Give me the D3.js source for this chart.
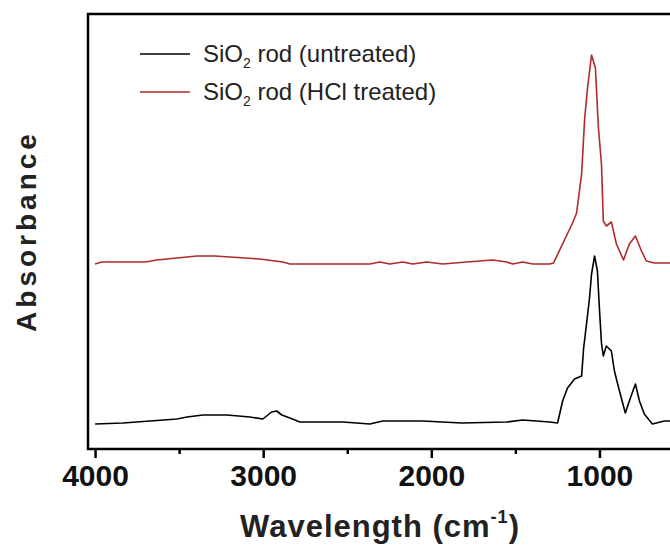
<!DOCTYPE html>
<html>
<head>
<meta charset="utf-8">
<script src="https://cdn.jsdelivr.net/npm/d3@7"></script>
<style>
  html, body { margin: 0; padding: 0; background: #fff; overflow: hidden; }
  svg { display: block; font-family: "Liberation Sans", Arial, sans-serif; }
</style>
</head>
<body>
<div id="grafico"></div>
<script>
// DATOS (numero de onda en cm-1, absorbancia en u.a.)
var ondaSinTratar = [4000, 3834, 3673, 3513, 3453, 3358, 3216, 3079, 3002, 2950, 2920, 2889, 2841, 2782, 2526, 2366, 2289, 2051, 1820, 1552, 1457, 1296, 1249, 1219, 1190, 1148, 1106, 1094, 1077, 1059, 1047, 1029, 1012, 1000, 988, 977, 959, 929, 911, 881, 846, 816, 786, 762, 733, 685, 614, 500];
var absSinTratar = [0.25, 0.26, 0.28, 0.30, 0.32, 0.34, 0.34, 0.32, 0.30, 0.37, 0.38, 0.34, 0.31, 0.27, 0.27, 0.25, 0.28, 0.28, 0.26, 0.27, 0.29, 0.27, 0.26, 0.48, 0.61, 0.70, 0.73, 1.01, 1.25, 1.51, 1.75, 1.93, 1.78, 1.40, 1.06, 0.93, 1.03, 0.98, 0.78, 0.58, 0.36, 0.51, 0.65, 0.48, 0.35, 0.25, 0.28, 0.28];

var ondaHCl = [4000, 3960, 3703, 3632, 3513, 3394, 3287, 3198, 3020, 2883, 2841, 2366, 2307, 2247, 2170, 2111, 2028, 1932, 1790, 1635, 1552, 1516, 1457, 1397, 1296, 1273, 1160, 1136, 1106, 1088, 1071, 1047, 1024, 1006, 988, 977, 959, 929, 899, 857, 822, 786, 750, 721, 673, 500];
var absHCl = [1.85, 1.87, 1.87, 1.89, 1.91, 1.93, 1.93, 1.92, 1.90, 1.87, 1.85, 1.85, 1.87, 1.85, 1.87, 1.85, 1.87, 1.85, 1.87, 1.89, 1.87, 1.85, 1.87, 1.85, 1.85, 1.86, 2.26, 2.36, 2.75, 3.30, 3.61, 3.94, 3.81, 3.21, 2.85, 2.28, 2.23, 2.27, 2.05, 1.89, 2.05, 2.13, 1.98, 1.88, 1.86, 1.86];

var ticksMayores = [4000, 3000, 2000, 1000];
var ticksMenores = [3500, 2500, 1500, 500];
var etiquetas = ['SiO2 rod (untreated)', 'SiO2 rod (HCl treated)'];
var colores = ['#000000', '#b22a2a'];

// TAMAÑO
var chart_width = 670;
var chart_height = 547;
var izq = 88, arriba = 14, abajo = 449, der = 702;

var svg = d3.select('#grafico').append('svg')
    .attr('width', chart_width)
    .attr('height', chart_height);

// ---------ESCALAS------------
var scale_x = d3.scaleLinear()
    .domain([4042, 390])
    .range([izq, der]);

var scale_y = d3.scaleLinear()
    .domain([0, 4.35])
    .range([abajo, arriba]);

// -------Line Generator------
var line = d3.line()
    .x(function (d) { return scale_x(d[0]); })
    .y(function (d) { return scale_y(d[1]); });

var series = [
    d3.zip(ondaSinTratar, absSinTratar),
    d3.zip(ondaHCl, absHCl)
];

svg.append('clipPath').attr('id', 'recorte')
    .append('rect')
    .attr('x', izq).attr('y', arriba)
    .attr('width', der - izq).attr('height', abajo - arriba);

series.forEach(function (s, i) {
    svg.append('path')
        .attr('d', line(s))
        .attr('fill', 'none')
        .attr('stroke', colores[i])
        .attr('stroke-width', 1.6)
        .attr('stroke-linejoin', 'round')
        .attr('clip-path', 'url(#recorte)');
});

// MARCO
svg.append('rect')
    .attr('x', izq).attr('y', arriba)
    .attr('width', der - izq).attr('height', abajo - arriba)
    .attr('fill', 'none')
    .attr('stroke', '#000')
    .attr('stroke-width', 2.5);

// EJE X (ticks hacia afuera)
var ejeX = svg.append('g')
    .attr('transform', 'translate(0,' + abajo + ')')
    .call(d3.axisBottom(scale_x).tickValues(ticksMayores).tickSize(9).tickPadding(7).tickFormat(d3.format('d')));
ejeX.select('.domain').remove();
ejeX.selectAll('.tick line').attr('stroke-width', 2.5);
ejeX.selectAll('.tick text')
    .attr('font-size', 30)
    .attr('font-weight', 'bold')
    .attr('font-family', '"Liberation Sans", Arial, sans-serif')
    .attr('fill', '#111');

var ejeMenor = svg.append('g')
    .attr('transform', 'translate(0,' + abajo + ')')
    .call(d3.axisBottom(scale_x).tickValues(ticksMenores).tickSize(5).tickFormat(''));
ejeMenor.select('.domain').remove();
ejeMenor.selectAll('.tick line').attr('stroke-width', 2.5);

// TITULO X
var tx = svg.append('text')
    .attr('x', 380)
    .attr('y', 537)
    .attr('text-anchor', 'middle')
    .attr('font-size', 31)
    .attr('font-weight', 'bold')
    .attr('letter-spacing', 1)
    .attr('fill', '#222');
tx.append('tspan').text('Wavelength (cm');
tx.append('tspan').attr('font-size', 18).attr('dy', -14).text('-1');
tx.append('tspan').attr('dy', 14).text(')');

// TITULO Y
svg.append('text')
    .attr('transform', 'translate(36,231) rotate(-90)')
    .attr('text-anchor', 'middle')
    .attr('font-size', 28)
    .attr('font-weight', 'bold')
    .attr('letter-spacing', 4)
    .attr('fill', '#222')
    .text('Absorbance');

// LEYENDA
etiquetas.forEach(function (et, i) {
    var y = 54 + i * 38;
    svg.append('line')
        .attr('x1', 140).attr('x2', 190)
        .attr('y1', y).attr('y2', y)
        .attr('stroke', colores[i])
        .attr('stroke-width', 1.5);
    var t = svg.append('text')
        .attr('x', 203)
        .attr('y', y + 8)
        .attr('font-size', 24)
        .attr('fill', '#222');
    t.append('tspan').text('SiO');
    t.append('tspan').attr('font-size', 14).attr('dy', 6).text('2');
    t.append('tspan').attr('dy', -6).text(et.replace('SiO2', ''));
});
</script>
</body>
</html>
